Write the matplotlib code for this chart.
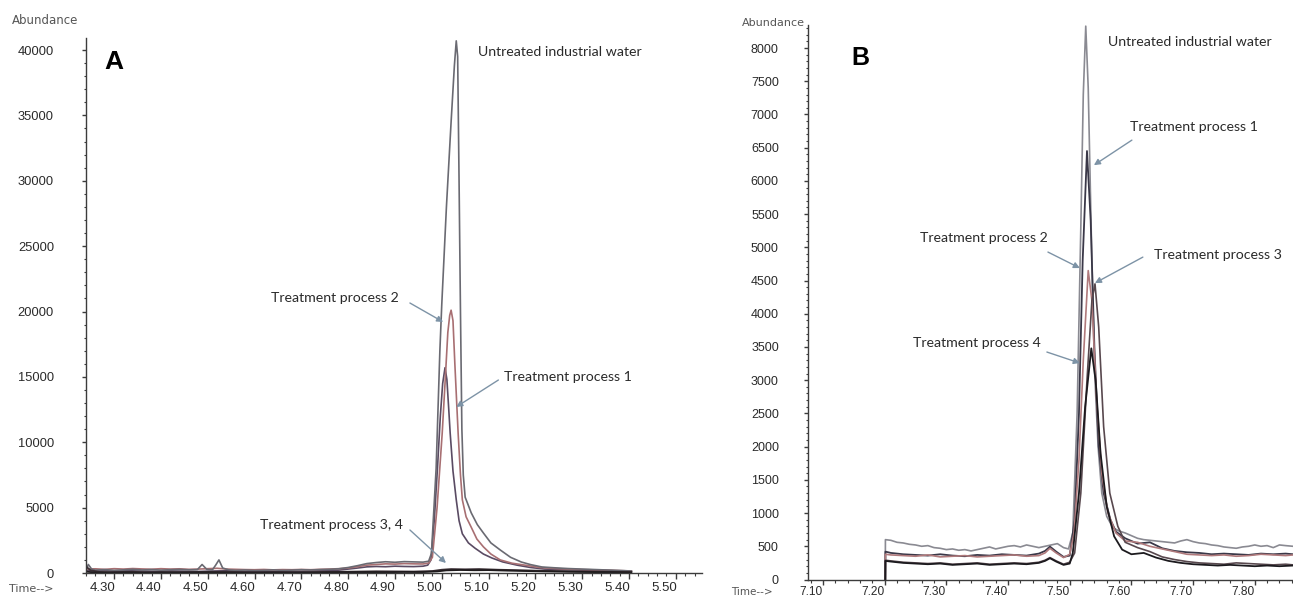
import matplotlib
matplotlib.use("Agg")
import matplotlib.pyplot as plt
from matplotlib.ticker import MultipleLocator, FormatStrFormatter
from matplotlib.transforms import ScaledTranslation

plt.rcParams['font.family'] = ['Liberation Sans', 'DejaVu Sans']

### panel A : retention ~5.0 min
a_t_untreated = [4.240, 4.245, 4.252, 4.26, 4.28, 4.30, 4.32, 4.34, 4.36, 4.38, 4.40, 4.42, 4.44, 4.46,
                 4.478, 4.488, 4.498, 4.51, 4.517, 4.524, 4.532, 4.545, 4.56, 4.58, 4.60, 4.62, 4.64,
                 4.66, 4.68, 4.70, 4.72, 4.74, 4.76, 4.78, 4.80, 4.82, 4.84, 4.86, 4.88, 4.90, 4.92,
                 4.94, 4.96, 4.972, 4.978, 4.988, 4.996, 5.000, 5.010, 5.020, 5.027, 5.031, 5.034,
                 5.037, 5.040, 5.043, 5.046, 5.050, 5.063, 5.076, 5.089, 5.105, 5.125, 5.147, 5.170,
                 5.19, 5.214, 5.24, 5.27, 5.30, 5.33, 5.36, 5.39, 5.405]
a_v_untreated = [250, 650, 300, 220, 260, 200, 240, 280, 230, 260, 220, 250, 270, 240,
                 260, 650, 280, 240, 600, 1000, 380, 240, 200, 230, 190, 210, 240,
                 200, 220, 250, 230, 260, 280, 320, 420, 560, 720, 800, 860, 820, 870,
                 850, 830, 900, 1500, 8000, 17000, 20500, 28000, 34500, 38800, 40700, 39500,
                 30000, 20000, 11000, 7500, 5800, 4600, 3700, 3060, 2300, 1760, 1200, 840,
                 640, 460, 400, 340, 300, 260, 220, 180, 150]

a_t_tp2 = [4.240, 4.26, 4.28, 4.30, 4.32, 4.34, 4.36, 4.38, 4.40, 4.42, 4.44, 4.46, 4.48, 4.50,
           4.52, 4.54, 4.56, 4.58, 4.60, 4.62, 4.64, 4.66, 4.68, 4.70, 4.72, 4.74, 4.76, 4.78,
           4.80, 4.82, 4.84, 4.86, 4.88, 4.90, 4.92, 4.94, 4.96, 4.972, 4.980, 4.990, 5.001,
           5.007, 5.013, 5.017, 5.020, 5.024, 5.028, 5.035, 5.040, 5.044, 5.052, 5.063, 5.075,
           5.089, 5.105, 5.125, 5.150, 5.178, 5.21, 5.25, 5.30, 5.35, 5.405]
a_v_tp2 = [300, 320, 280, 330, 300, 340, 310, 290, 330, 300, 320, 280, 300, 330,
           360, 300, 280, 260, 250, 270, 240, 260, 250, 270, 250, 280, 300, 330,
           380, 480, 600, 650, 700, 680, 720, 700, 690, 760, 1200, 5000, 10700,
           14500, 18400, 19700, 20100, 19300, 16000, 10700, 7500, 5600, 4300, 3500, 2600,
           2000, 1450, 1000, 750, 600, 420, 330, 260, 220, 150]

a_t_tp1 = [4.240, 4.26, 4.28, 4.30, 4.33, 4.36, 4.39, 4.42, 4.45, 4.48, 4.51, 4.54, 4.57, 4.60,
           4.63, 4.66, 4.69, 4.72, 4.75, 4.78, 4.80, 4.82, 4.84, 4.86, 4.88, 4.90, 4.92, 4.94,
           4.96, 4.970, 4.977, 4.984, 4.991, 4.997, 5.002, 5.007, 5.011, 5.015, 5.018, 5.024,
           5.031, 5.037, 5.044, 5.057, 5.071, 5.089, 5.107, 5.130, 5.161, 5.190, 5.220, 5.26,
           5.30, 5.35, 5.405]
a_v_tp1 = [200, 150, 180, 140, 170, 150, 130, 160, 140, 120, 150, 170, 130, 120,
           140, 110, 130, 150, 180, 220, 300, 380, 470, 500, 480, 520, 500, 490,
           520, 600, 1000, 4000, 8100, 12000, 14500, 15700, 14800, 12500, 10700, 7800,
           5600, 4000, 3000, 2300, 1900, 1450, 1150, 850, 600, 420, 300, 260,
           220, 180, 140]

a_t_tp3 = [4.240, 4.25, 4.27, 4.30, 4.34, 4.38, 4.42, 4.46, 4.50, 4.54, 4.58, 4.62, 4.66, 4.70,
           4.74, 4.78, 4.82, 4.86, 4.90, 4.94, 4.98, 5.00, 5.02, 5.05, 5.08, 5.12, 5.16, 5.20,
           5.25, 5.30, 5.35, 5.405]
a_v_tp3 = [500, 200, 80, 60, 90, 50, 70, 60, 80, 100, 60, 50, 70, 60,
           80, 90, 110, 130, 120, 110, 150, 250, 300, 280, 300, 250, 220, 180,
           150, 120, 100, 80]

a_t_tp4 = [4.240, 4.26, 4.29, 4.32, 4.36, 4.40, 4.44, 4.48, 4.52, 4.56, 4.60, 4.64, 4.68, 4.72,
           4.76, 4.80, 4.84, 4.88, 4.92, 4.96, 4.99, 5.01, 5.04, 5.07, 5.10, 5.14, 5.18, 5.22,
           5.27, 5.32, 5.37, 5.405]
a_v_tp4 = [100, 40, 30, 50, 20, 40, 30, 50, 40, 20, 30, 40, 20, 30,
           50, 60, 70, 60, 80, 70, 120, 200, 230, 210, 220, 180, 150, 120,
           90, 70, 60, 40]

### panel B : retention ~7.5 min
b_t_untreated = [7.201, 7.2012, 7.21, 7.22, 7.23, 7.24, 7.25, 7.26, 7.27, 7.28, 7.29, 7.30, 7.31,
                 7.32, 7.33, 7.34, 7.35, 7.36, 7.37, 7.38, 7.39, 7.40, 7.41, 7.42, 7.43, 7.44,
                 7.45, 7.46, 7.47, 7.48, 7.49, 7.498, 7.505, 7.512, 7.518, 7.522, 7.526, 7.530,
                 7.535, 7.540, 7.546, 7.552, 7.560, 7.570, 7.580, 7.59, 7.60, 7.61, 7.62, 7.63,
                 7.64, 7.65, 7.66, 7.67, 7.68, 7.69, 7.70, 7.71, 7.72, 7.73, 7.74, 7.75, 7.76,
                 7.77, 7.78, 7.79, 7.80, 7.81, 7.82, 7.83, 7.84, 7.85, 7.862]
b_v_untreated = [0, 600, 590, 560, 550, 530, 520, 500, 510, 480, 470, 450, 460,
                 440, 450, 430, 450, 470, 490, 460, 480, 500, 510, 490, 520, 500,
                 480, 500, 520, 540, 480, 460, 700, 2500, 5300, 7300, 8330, 7400,
                 5200, 3200, 2000, 1300, 950, 780, 730, 700, 660, 620, 600, 590,
                 580, 570, 560, 550, 580, 600, 570, 550, 540, 520, 510, 490, 480,
                 470, 490, 500, 520, 500, 510, 480, 520, 510, 500]

b_t_tp1 = [7.201, 7.2012, 7.21, 7.23, 7.25, 7.27, 7.29, 7.31, 7.33, 7.35, 7.37, 7.39, 7.41, 7.43,
           7.45, 7.46, 7.468, 7.478, 7.490, 7.500, 7.508, 7.515, 7.521, 7.528, 7.534, 7.540,
           7.547, 7.555, 7.566, 7.575, 7.59, 7.61, 7.63, 7.65, 7.67, 7.69, 7.71, 7.73, 7.75,
           7.77, 7.79, 7.81, 7.83, 7.85, 7.862]
b_v_tp1 = [0, 420, 400, 380, 370, 360, 380, 360, 350, 370, 360, 380, 370, 360,
           390, 430, 495, 420, 340, 360, 900, 2500, 4800, 6450, 5400, 3500,
           2000, 1300, 900, 720, 620, 540, 560, 470, 430, 410, 400, 380, 390,
           380, 370, 390, 380, 390, 380]

b_t_tp2 = [7.201, 7.2012, 7.21, 7.23, 7.25, 7.27, 7.29, 7.31, 7.33, 7.35, 7.37, 7.39, 7.41, 7.43,
           7.45, 7.46, 7.468, 7.478, 7.490, 7.500, 7.507, 7.515, 7.522, 7.530, 7.536, 7.543,
           7.552, 7.562, 7.575, 7.59, 7.61, 7.63, 7.65, 7.67, 7.69, 7.71, 7.73, 7.75, 7.77,
           7.79, 7.81, 7.83, 7.85, 7.862]
b_v_tp2 = [0, 380, 370, 360, 350, 370, 340, 350, 360, 340, 350, 360, 370, 350,
           360, 400, 470, 400, 330, 380, 700, 1800, 3300, 4650, 4200, 2800,
           1600, 1000, 700, 580, 560, 500, 460, 420, 380, 370, 360, 370, 350,
           360, 380, 370, 360, 370]

b_t_tp3 = [7.201, 7.2012, 7.21, 7.23, 7.25, 7.27, 7.29, 7.31, 7.33, 7.35, 7.37, 7.39, 7.41, 7.43,
           7.45, 7.46, 7.468, 7.478, 7.490, 7.500, 7.508, 7.518, 7.528, 7.536, 7.541, 7.547,
           7.555, 7.565, 7.578, 7.59, 7.61, 7.63, 7.65, 7.67, 7.69, 7.71, 7.73, 7.75, 7.77,
           7.79, 7.81, 7.83, 7.85, 7.862]
b_v_tp3 = [0, 290, 280, 260, 250, 240, 250, 230, 240, 250, 230, 240, 250, 240,
           260, 290, 330, 280, 230, 260, 400, 1300, 3000, 4200, 4450, 3800,
           2300, 1300, 800, 560, 480, 420, 340, 300, 270, 250, 240, 230, 250,
           240, 230, 220, 230, 220]

b_t_tp4 = [7.201, 7.2012, 7.21, 7.23, 7.25, 7.27, 7.29, 7.31, 7.33, 7.35, 7.37, 7.39, 7.41, 7.43,
           7.45, 7.46, 7.468, 7.478, 7.490, 7.500, 7.505, 7.515, 7.525, 7.535, 7.542, 7.550,
           7.560, 7.572, 7.585, 7.60, 7.62, 7.64, 7.66, 7.68, 7.70, 7.72, 7.74, 7.76, 7.78,
           7.80, 7.82, 7.84, 7.862]
b_v_tp4 = [0, 280, 270, 250, 240, 230, 240, 220, 230, 240, 220, 230, 240, 230,
           250, 280, 320, 270, 220, 240, 400, 1300, 2600, 3480, 3000, 1900,
           1100, 650, 450, 380, 400, 330, 280, 250, 230, 220, 210, 220, 210,
           200, 210, 200, 210]

lbl_untreated = "Untreated industrial water"
lbl_tp = ["Treatment process 1", "Treatment process 2", "Treatment process 3",
          "Treatment process 4", "Treatment process 3, 4"]

### figure
fig = plt.figure(figsize=(12.93, 5.99), dpi=100)
axA = fig.add_axes([86/1293, 1-573/599, 616/1293, 535/599])
axB = fig.add_axes([808/1293, 1-579.5/599, 485/1293, 554.5/599])

axiscol = '#3c3c3c'
txtcol = '#2a2a2a'
arrcol = '#7d93a6'
annfont = ['Lato', 'DejaVu Sans']
annsize = 10.2

def style_axes(ax, xmaj, ymaj, ypad, xsize, ysize, xlen, xpad):
    for s in ['top', 'right']:
        ax.spines[s].set_visible(False)
    for s in ['left', 'bottom']:
        ax.spines[s].set_color(axiscol)
        ax.spines[s].set_linewidth(1.0)
    ax.xaxis.set_major_locator(MultipleLocator(xmaj))
    ax.xaxis.set_minor_locator(MultipleLocator(xmaj/5))
    ax.yaxis.set_major_locator(MultipleLocator(ymaj))
    ax.yaxis.set_minor_locator(MultipleLocator(ymaj/5))
    ax.xaxis.set_major_formatter(FormatStrFormatter('%.2f'))
    ax.tick_params(axis='x', which='major', direction='out', length=xlen, width=1,
                   color=axiscol, labelsize=xsize, labelcolor=txtcol, pad=xpad)
    ax.tick_params(axis='x', which='minor', direction='out', length=xlen*0.6, width=0.8, color=axiscol)
    ax.tick_params(axis='y', which='major', direction='out', length=3, width=1,
                   color=axiscol, labelsize=ysize, labelcolor=txtcol, pad=ypad)
    ax.tick_params(axis='y', which='minor', direction='out', length=1.5, width=0.8, color=axiscol)
    # labels in the original sit a bit left of their ticks
    for lab in ax.get_xticklabels():
        lab.set_transform(lab.get_transform() + ScaledTranslation(-12/100, 0, fig.dpi_scale_trans))

# panel A
axA.plot(a_t_tp1, a_v_tp1, color='#5a4b63', lw=1.2)
axA.plot(a_t_tp2, a_v_tp2, color='#a86f72', lw=1.2)
axA.plot(a_t_untreated, a_v_untreated, color='#6a6a72', lw=1.2)
axA.plot(a_t_tp3, a_v_tp3, color='#3a2e34', lw=1.3)
axA.plot(a_t_tp4, a_v_tp4, color='#1e1a1c', lw=1.3)
axA.set_xlim(4.240, 5.556)
axA.set_ylim(0, 40918)
style_axes(axA, 0.1, 5000, 20, 9.5, 9.3, 4, 2.5)

axA.text(0.0455, 0.955, "A", transform=axA.transAxes, fontsize=19, fontweight='bold',
         ha='center', va='center')
axA.text(5.078, 39860, lbl_untreated, ha='left', va='center', fontsize=annsize, color=txtcol, family=annfont)
axA.text(4.909, 21040, lbl_tp[1], ha='right', va='center', fontsize=annsize, color=txtcol, family=annfont)
axA.text(5.133, 15000, lbl_tp[0], ha='left', va='center', fontsize=annsize, color=txtcol, family=annfont)
axA.text(4.918, 3670, lbl_tp[4], ha='right', va='center', fontsize=annsize, color=txtcol, family=annfont)

arrow = dict(arrowstyle='-|>', color=arrcol, lw=1.0, mutation_scale=9, shrinkA=0, shrinkB=0)
axA.annotate('', xy=(5.003, 19200), xytext=(4.932, 20650), arrowprops=arrow)
axA.annotate('', xy=(5.031, 12700), xytext=(5.121, 14760), arrowprops=arrow)
axA.annotate('', xy=(5.009, 765), xytext=(4.932, 3290), arrowprops=arrow)

# panel B
axB.plot(b_t_untreated, b_v_untreated, color='#8a8a92', lw=1.2)
axB.plot(b_t_tp1, b_v_tp1, color='#3a3848', lw=1.3)
axB.plot(b_t_tp2, b_v_tp2, color='#b07a7c', lw=1.2)
axB.plot(b_t_tp3, b_v_tp3, color='#58484e', lw=1.2)
axB.plot(b_t_tp4, b_v_tp4, color='#1c1a1e', lw=1.3)
axB.set_xlim(7.0757, 7.862)
axB.set_ylim(0, 8347)
style_axes(axB, 0.1, 500, 18, 8.6, 9, 3.5, 1)

axB.text(0.107, 0.9405, "B", transform=axB.transAxes, fontsize=18, fontweight='bold',
         ha='center', va='center')
axB.text(7.562, 8090, lbl_untreated, ha='left', va='center', fontsize=annsize, color=txtcol, family=annfont)
axB.text(7.5976, 6810, lbl_tp[0], ha='left', va='center', fontsize=annsize, color=txtcol, family=annfont)
axB.text(7.4647, 5140, lbl_tp[1], ha='right', va='center', fontsize=annsize, color=txtcol, family=annfont)
axB.text(7.6365, 4884, lbl_tp[2], ha='left', va='center', fontsize=annsize, color=txtcol, family=annfont)
axB.text(7.4533, 3559, lbl_tp[3], ha='right', va='center', fontsize=annsize, color=txtcol, family=annfont)

axB.annotate('', xy=(7.5392, 6237), xytext=(7.6008, 6614), arrowprops=arrow)
axB.annotate('', xy=(7.5165, 4688), xytext=(7.4647, 4929), arrowprops=arrow)
axB.annotate('', xy=(7.5408, 4462), xytext=(7.6186, 4853), arrowprops=arrow)
axB.annotate('', xy=(7.5165, 3258), xytext=(7.4630, 3424), arrowprops=arrow)

# ChemStation-style axis captions
capfont = ['DejaVu Sans']
fig.text(0.0348, 0.9666, "Abundance", ha='center', va='center', fontsize=8.5, color='#555555', family=capfont)
fig.text(0.5978, 0.9616, "Abundance", ha='center', va='center', fontsize=8, color='#555555', family=capfont)
fig.text(0.024, 0.0167, "Time-->", ha='center', va='center', fontsize=8, color='#555555', family=capfont)
fig.text(0.5815, 0.0117, "Time-->", ha='center', va='center', fontsize=7.5, color='#555555', family=capfont)

fig.savefig("out.png", dpi=100)
